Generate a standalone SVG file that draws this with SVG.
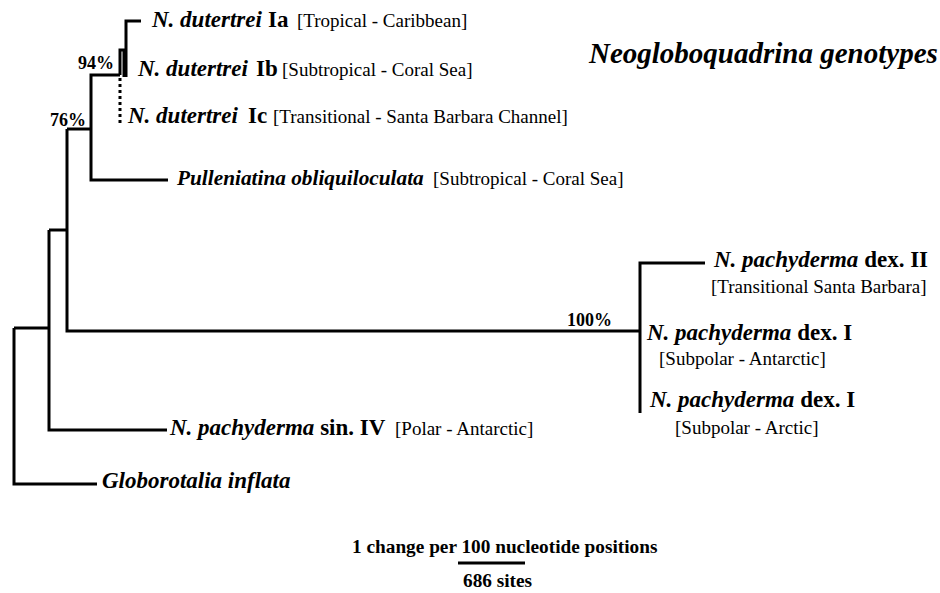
<svg xmlns="http://www.w3.org/2000/svg" width="940" height="593" viewBox="0 0 940 593">
<style>
.br{fill:none;stroke:#000;stroke-width:3;stroke-linecap:butt;stroke-linejoin:miter}
.dot{fill:none;stroke:#000;stroke-width:3;stroke-dasharray:3 3}
text,tspan{font-family:"Liberation Serif","Tinos","Times New Roman","DejaVu Serif",serif;fill:#000}
.sp{font-size:23px;font-weight:bold;font-style:italic}
.gt{font-size:23px;font-weight:bold;font-style:normal}
.loc{font-size:19px;font-weight:400;font-style:normal}
.pct{font-size:18px;font-weight:bold}
.title{font-size:29px;font-weight:bold;font-style:italic}
.scale{font-size:19.3px;font-weight:bold}
</style>
<rect width="940" height="593" fill="#fff"/>
<g id="connectors">
<path class="br" d="M141,21 H126 V77"/>
<path class="br" d="M120,75 V50 H124 V77"/>
<path class="dot" d="M120,78 V124"/>
<path class="br" d="M120,75 H91 V180 H168"/>
<path class="br" d="M67,129 H91"/>
<path class="br" d="M67,129 V331 H640"/>
<path class="br" d="M49,230 H67"/>
<path class="br" d="M49,230 V430 H167"/>
<path class="br" d="M14,328 H49"/>
<path class="br" d="M14,328 V484 H97"/>
<path class="br" d="M705,263 H640 V413"/>
<path class="br" d="M458,563 H525"/>
</g>
<g id="support-labels">
<text class="pct" x="78" y="69">94%</text>
<text class="pct" x="50" y="126">76%</text>
<text class="pct" x="567" y="326">100%</text>
</g>
<g id="node-dutertrei-Ia">
<text y="27"><tspan class="sp" x="152">N. dutertrei</tspan><tspan class="gt" x="268">Ia</tspan><tspan class="loc" x="297">[Tropical - Caribbean]</tspan></text>
</g>
<g id="node-dutertrei-Ib">
<text y="76"><tspan class="sp" x="138">N. dutertrei</tspan><tspan class="gt" x="256">Ib</tspan><tspan class="loc" x="282">[Subtropical - Coral Sea]</tspan></text>
</g>
<g id="node-dutertrei-Ic">
<text y="123"><tspan class="sp" x="128">N. dutertrei</tspan><tspan class="gt" x="248">Ic</tspan><tspan class="loc" x="273">[Transitional - Santa Barbara Channel]</tspan></text>
</g>
<g id="node-pulleniatina">
<text y="185"><tspan class="sp" x="177" style="font-size:21.3px">Pulleniatina obliquiloculata</tspan><tspan class="loc" x="433">[Subtropical - Coral Sea]</tspan></text>
</g>
<g id="node-pachyderma-dexII">
<text y="267"><tspan class="sp" x="714">N. pachyderma</tspan><tspan class="gt"> dex. II</tspan></text>
<text class="loc" x="711" y="293">[Transitional Santa Barbara]</text>
</g>
<g id="node-pachyderma-dexI-antarctic">
<text y="340"><tspan class="sp" x="647">N. pachyderma</tspan><tspan class="gt"> dex. I</tspan></text>
<text class="loc" x="659" y="365">[Subpolar - Antarctic]</text>
</g>
<g id="node-pachyderma-dexI-arctic">
<text y="407"><tspan class="sp" x="650">N. pachyderma</tspan><tspan class="gt"> dex. I</tspan></text>
<text class="loc" x="675" y="434">[Subpolar - Arctic]</text>
</g>
<g id="node-pachyderma-sinIV">
<text y="435"><tspan class="sp" x="170">N. pachyderma</tspan><tspan class="gt"> sin. IV</tspan><tspan class="loc" x="395">[Polar - Antarctic]</tspan></text>
</g>
<g id="node-globorotalia">
<text class="sp" x="102" y="488">Globorotalia inflata</text>
</g>
<g id="title">
<text class="title" x="589" y="63">Neogloboquadrina genotypes</text>
</g>
<g id="scale-bar">
<text class="scale" x="352" y="553">1 change per 100 nucleotide positions</text>
<text class="scale" x="463" y="587">686 sites</text>
</g>
</svg>
